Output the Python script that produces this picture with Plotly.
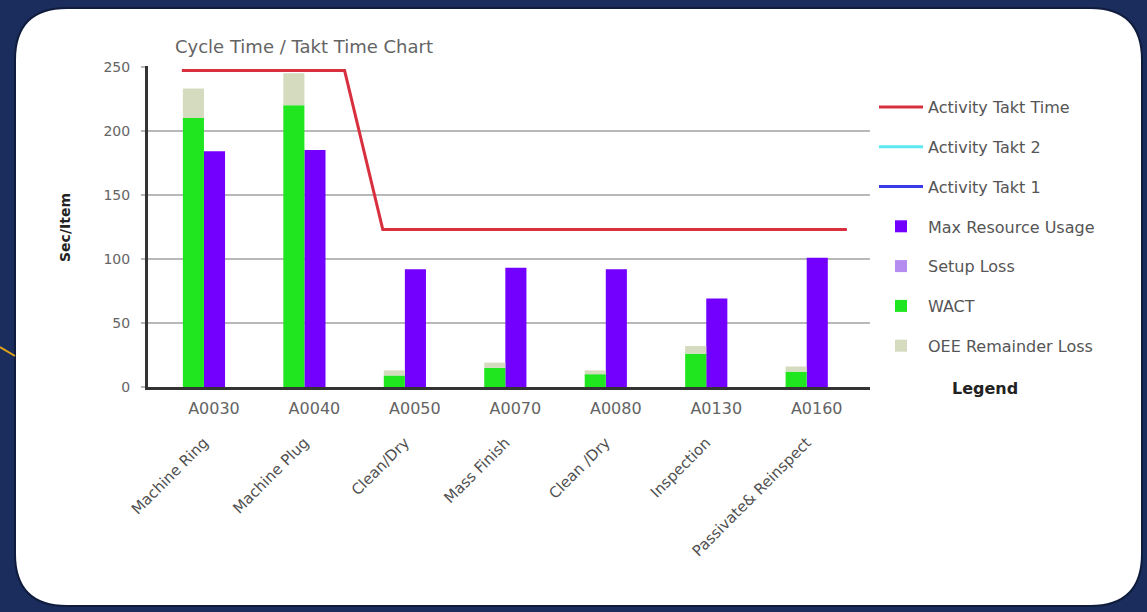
import plotly.graph_objects as go

W, H = 1147, 612


def px(x):
    return x / W


def py(y):
    return 1 - y / H


# ---- data ----
codes = ["A0030", "A0040", "A0050", "A0070", "A0080", "A0130", "A0160"]
names = ["Machine Ring", "Machine Plug", "Clean/Dry", "Mass Finish",
         "Clean /Dry", "Inspection", "Passivate& Reinspect"]
wact = [210, 220, 9, 15, 10, 26, 12]
setup_loss = [0, 0, 0, 0, 0, 0, 0]
oee_loss = [23, 25, 4, 4, 3, 6, 4]
max_resource = [184, 185, 92, 93, 92, 69, 101]
takt_time = [247, 247, 123, 123, 123, 123, 123]
y_ticks = [0, 50, 100, 150, 200, 250]

FONT = "DejaVu Sans"
NAVY = "#1b2d5c"
xs = list(range(len(codes)))

# takt step line built from per-activity takt values
takt_x, takt_y = [], []
for i, t in zip(xs, takt_time):
    takt_x += [i - 0.22, i + 0.40]
    takt_y += [t, t]

BW = 0.21
fig = go.Figure()
fig.add_trace(go.Scatter(x=takt_x, y=takt_y, mode="lines", name="Activity Takt Time",
                         line=dict(color="#d8303f", width=3), legendgroup="g1"))
fig.add_trace(go.Scatter(x=[None], y=[None], mode="lines", name="Activity Takt 2",
                         line=dict(color="#5ee8f2", width=3), legendgroup="g2"))
fig.add_trace(go.Scatter(x=[None], y=[None], mode="lines", name="Activity Takt 1",
                         line=dict(color="#3a3ae6", width=3), legendgroup="g3", xaxis="x2"))
fig.add_trace(go.Bar(x=xs, y=max_resource, name="Max Resource Usage", width=BW, offset=0,
                     marker=dict(color="#7300ff", line=dict(width=0)), legendgroup="g4"))
fig.add_trace(go.Bar(x=xs, y=setup_loss, base=wact, name="Setup Loss", width=BW, offset=-BW,
                     marker=dict(color="#b58cf0", line=dict(width=0)), legendgroup="g5"))
fig.add_trace(go.Bar(x=xs, y=wact, name="WACT", width=BW, offset=-BW,
                     marker=dict(color="#1fe61f", line=dict(width=0)), legendgroup="g6"))
fig.add_trace(go.Bar(x=xs, y=oee_loss, base=[w + s for w, s in zip(wact, setup_loss)],
                     name="OEE Remainder Loss", width=BW, offset=-BW,
                     marker=dict(color="#d5dbbf", line=dict(width=0)), legendgroup="g7"))

xr = [-0.557, 6.63]
fig.update_layout(
    width=W, height=H,
    margin=dict(l=0, r=0, t=0, b=0, pad=0, autoexpand=False),
    paper_bgcolor=NAVY,
    plot_bgcolor="rgba(0,0,0,0)",
    barmode="overlay",
    font=dict(family=FONT, color="#555555"),
    title=dict(text="Cycle Time / Takt Time Chart", x=px(175), xanchor="left",
               y=py(47), yanchor="middle", font=dict(size=18, color="#646464", family=FONT)),
    xaxis=dict(domain=[px(148), px(870)], range=xr, tickmode="array", tickvals=xs,
               ticktext=codes, showgrid=False, zeroline=False, showline=True,
               linecolor="#333333", linewidth=3, ticks="", ticklabelstandoff=5,
               ticklabelshift=10, automargin=False,
               tickfont=dict(size=16, color="#646464")),
    xaxis2=dict(overlaying="x", anchor="free", position=py(430), side="bottom",
                range=xr, tickmode="array", tickvals=xs, ticktext=names, tickangle=-45,
                showgrid=False, zeroline=False, showline=False, ticks="",
                automargin=False, tickfont=dict(size=15, color="#505050")),
    yaxis=dict(domain=[py(387), py(66)], range=[0, 250.6], tickvals=y_ticks,
               showgrid=True, gridcolor="#b8b8b8", gridwidth=2, zeroline=False,
               showline=True, linecolor="#333333", linewidth=3,
               ticks="outside", ticklen=4, tickcolor="#b8b8b8", tickwidth=2,
               ticklabelstandoff=8, automargin=False,
               tickfont=dict(size=14, color="#646464")),
    legend=dict(x=px(874), y=py(90), xanchor="left", yanchor="top",
                bgcolor="rgba(0,0,0,0)", tracegroupgap=16, traceorder="grouped",
                itemwidth=44,
                font=dict(size=16, color="#555555", family=FONT)),
    showlegend=True,
)

# rounded white panel
x0, x1, y0, y1 = px(15), px(1142), py(8), py(606)
rx, ry = 52 / W, 52 / H
path = (f"M {x0+rx},{y0} L {x1-rx},{y0} Q {x1},{y0} {x1},{y0-ry} "
        f"L {x1},{y1+ry} Q {x1},{y1} {x1-rx},{y1} L {x0+rx},{y1} "
        f"Q {x0},{y1} {x0},{y1+ry} L {x0},{y0-ry} Q {x0},{y0} {x0+rx},{y0} Z")
fig.add_shape(type="path", path=path, xref="paper", yref="paper",
              fillcolor="white", line=dict(color="#0f1c3d", width=2), layer="below")
# small decorative accent line at left edge
fig.add_shape(type="line", xref="paper", yref="paper", x0=0, y0=py(347), x1=px(15), y1=py(356),
              line=dict(color="#e3a21a", width=2), layer="below")

fig.add_annotation(text="<b>Sec/Item</b>", x=px(65), y=py(228), xref="paper", yref="paper",
                   xanchor="center", yanchor="middle",
                   textangle=-90, showarrow=False, font=dict(size=14, color="#222222", family=FONT))
fig.add_annotation(text="<b>Legend</b>", x=px(985), y=py(388), xref="paper", yref="paper",
                   xanchor="center", yanchor="middle",
                   showarrow=False, font=dict(size=16, color="#222222", family=FONT))

fig.write_html("out.html", config={"displayModeBar": False},
               post_script=f"document.documentElement.style.overflow='hidden';"
                           f"document.body.style.overflow='hidden';"
                           f"document.body.style.margin='0';document.body.style.background='{NAVY}';")
